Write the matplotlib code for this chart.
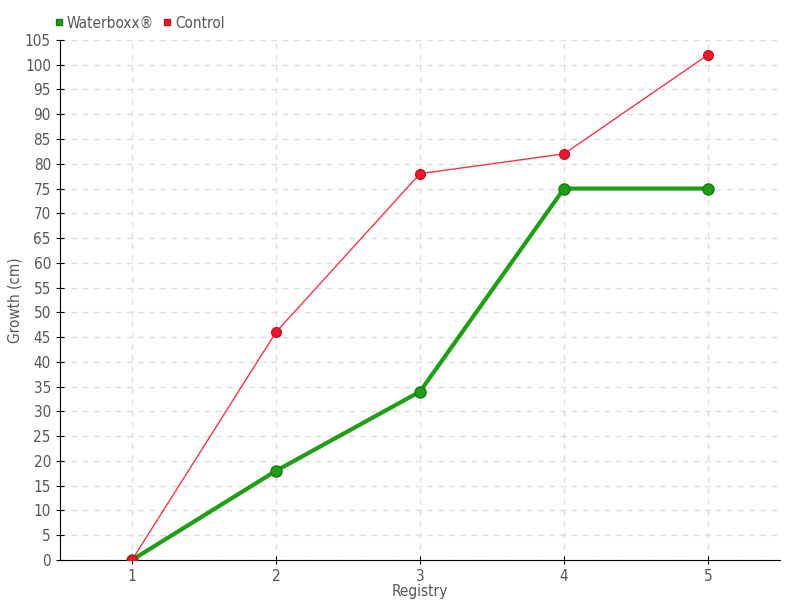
import numpy as np
from matplotlib import pyplot as plt

registry = [1, 2, 3, 4, 5]
waterboxx = [0, 18, 34, 75, 75]
control = [0, 46, 78, 82, 102]
yticks = np.arange(0, 106, 5)

plt.rcParams['font.family'] = ['DejaVu Sans']
plt.rcParams['font.stretch'] = 'condensed'
fig = plt.figure(figsize=(8, 6), dpi=100)
ax = fig.add_axes([0.075, 0.0667, 0.9, 0.8667])

gray = '#555555'
ax.plot(registry, waterboxx, color='#1f9e16', lw=3, marker='o', ms=8,
        mfc='#1f9e16', mec='#187a12', label='Waterboxx®', zorder=3)
ax.plot(registry, control, color='#f0384a', lw=1, marker='o', ms=7,
        mfc='#e8192c', mec='#d01020', label='Control', zorder=4)

ax.set_xlim(0.5, 5.5)
ax.set_ylim(0, 105)
ax.set_xticks(registry)
ax.set_yticks(yticks)
ax.grid(True, color='#dddddd', ls=(0, (4, 4)), lw=1)
ax.set_axisbelow(True)
for s in ['top', 'right']:
    ax.spines[s].set_visible(False)
ax.tick_params(axis='both', colors='black', labelcolor=gray, labelsize=11, direction='inout', length=6)
ax.set_xlabel('Registry', color=gray, fontsize=11, labelpad=0)
ax.set_ylabel('Growth (cm)', color=gray, fontsize=11, labelpad=2)

leg = ax.legend(loc='lower left', bbox_to_anchor=(-0.02, 1.0), ncol=2, frameon=False,
                handlelength=0.5, handletextpad=0.3, columnspacing=0.6, fontsize=11,
                borderaxespad=0.2)
for h in leg.legend_handles:
    h.set_linestyle('')
    h.set_marker('s')
    h.set_markersize(5)
for t in leg.get_texts():
    t.set_color(gray)

fig.savefig('out.png')
